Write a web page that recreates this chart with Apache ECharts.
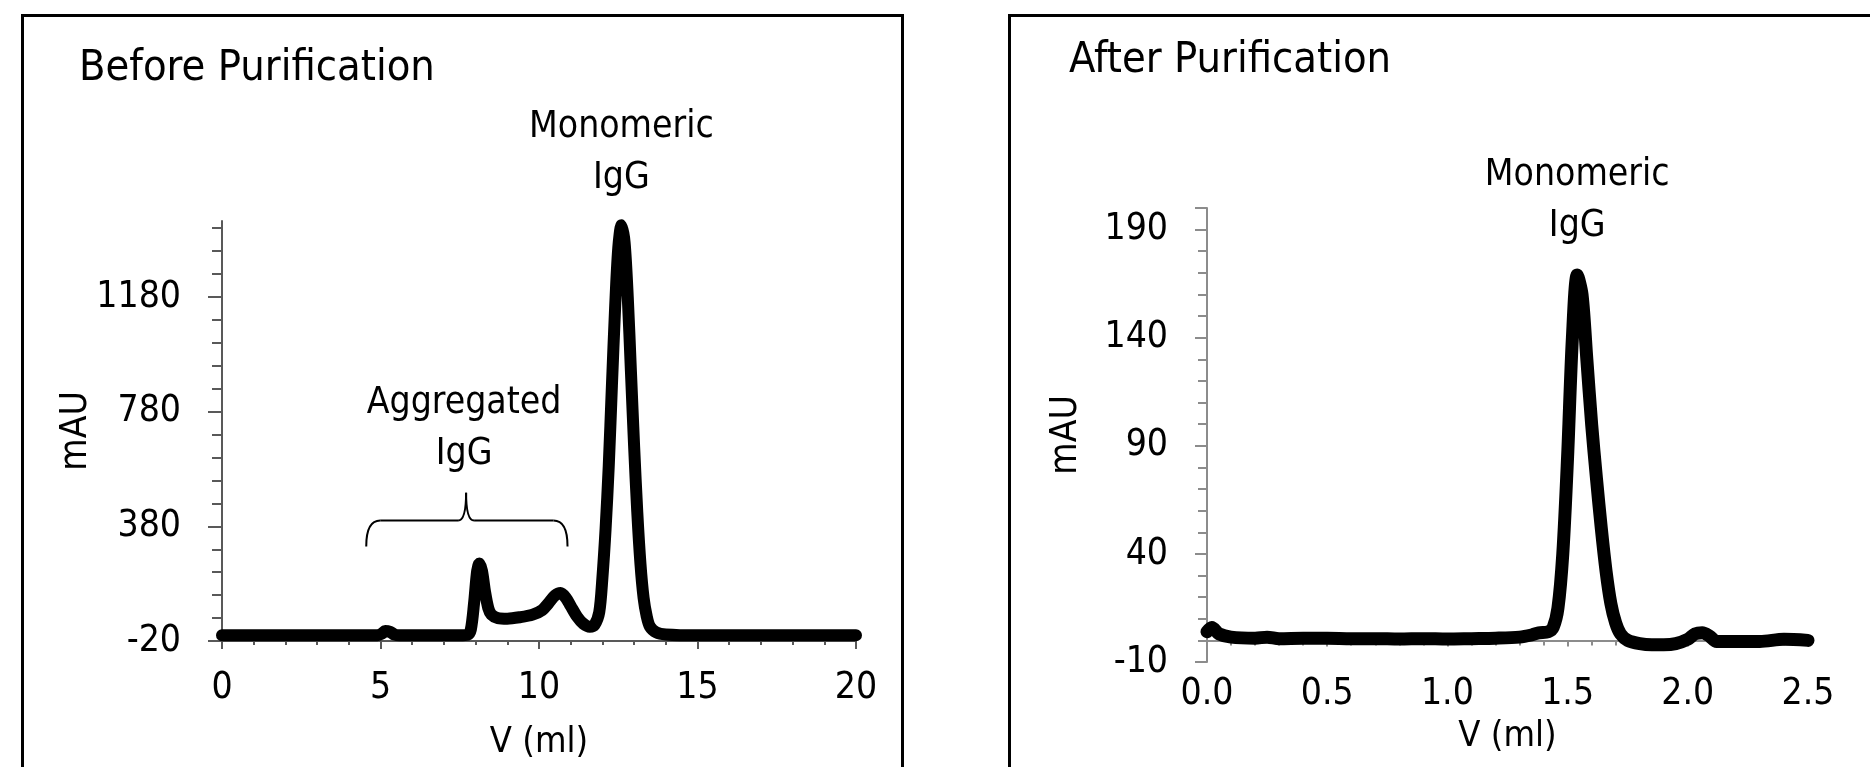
<!DOCTYPE html>
<html>
<head>
<meta charset="utf-8">
<script src="https://cdn.jsdelivr.net/npm/echarts@6/dist/echarts.min.js"></script>
<style>
html,body{margin:0;padding:0;background:#fff;}
#chart{width:1870px;height:767px;}
</style>
</head>
<body>
<div id="chart"></div>
<script>
// before purification trace (V in ml, absorbance in mAU)
const beforeV = [0, 1, 2, 3, 4, 4.9, 5.05, 5.15, 5.3, 5.45, 5.6, 6.5, 7.5, 7.75, 7.85, 7.95, 8.05, 8.12, 8.2, 8.3, 8.4, 8.5, 8.7, 9.0, 9.4, 9.8, 10.1, 10.3, 10.5, 10.68, 10.85, 11.0, 11.2, 11.4, 11.6, 11.75, 11.9, 12.0, 12.1, 12.2, 12.3, 12.4, 12.5, 12.6, 12.7, 12.8, 12.9, 13.0, 13.1, 13.2, 13.3, 13.4, 13.5, 13.7, 14.0, 15, 16, 17, 18, 19, 20];
const beforeMAU = [0, 0, 0, 0, 0, 0, 6, 15, 12, 2, 0, 0, 0, 2, 20, 110, 225, 250, 225, 150, 95, 72, 60, 58, 63, 72, 88, 112, 138, 147, 130, 102, 65, 40, 30, 36, 80, 200, 370, 590, 870, 1140, 1350, 1430, 1370, 1180, 920, 660, 430, 250, 130, 65, 30, 10, 3, 0, 0, 0, 0, 0, 0];

// after purification trace
const afterV = [0, 0.02, 0.05, 0.1, 0.2, 0.25, 0.3, 0.4, 0.5, 0.6, 0.7, 0.8, 0.9, 1.0, 1.1, 1.2, 1.3, 1.35, 1.38, 1.42, 1.44, 1.46, 1.48, 1.5, 1.52, 1.54, 1.56, 1.58, 1.6, 1.62, 1.64, 1.66, 1.68, 1.7, 1.72, 1.75, 1.8, 1.85, 1.9, 1.95, 2.0, 2.03, 2.06, 2.09, 2.12, 2.2, 2.3, 2.4, 2.5];
const afterMAU = [4, 6, 3, 1.5, 1, 1.5, 0.8, 1, 1, 0.8, 0.8, 0.6, 0.8, 0.6, 0.8, 1, 1.5, 2.5, 3.5, 4, 6, 15, 40, 85, 140, 169, 160, 130, 100, 75, 52, 32, 17, 8, 3, 0, -1.5, -2, -2, -1.5, 0.5, 3, 3.5, 2, -0.5, -0.5, -0.5, 0.5, 0];

const beforeYTicks = [-20, 380, 780, 1180];
const afterYTicks = [-10, 40, 90, 140, 190];

// brace over the aggregate peaks: left/centre/right V, and end/bar/tip heights
const braceV = [4.55, 7.7, 10.9];
const braceMAU = [310, 400, 497];

const font = "'Liberation Sans Narrow','Arial Narrow','DejaVu Sans Condensed',sans-serif";

function toPairs(xs, ys){
    let out = [];
    for(let i = 0; i < xs.length; i++){
        out.push([xs[i], ys[i]]);
    }
    return out;
}

let myChart = echarts.init(document.getElementById('chart'));
let option = {
    backgroundColor: '#fff',
    animation: false,
    textStyle: { fontFamily: font, color: '#000' },
    title: [
        {
            text: 'Before Purification', left: 79, top: 47, padding: 0,
            textStyle: { fontSize: 43, fontWeight: 'normal', fontFamily: font, color: '#000' }
        },
        {
            text: 'After Purification', left: 1069, top: 39, padding: 0,
            textStyle: { fontSize: 43, fontWeight: 'normal', fontFamily: font, color: '#000' }
        }
    ],
    grid: [
        { left: 222, top: 221, width: 634, height: 420, outerBoundsMode: 'none' },
        { left: 1207, top: 208, width: 601, height: 454, outerBoundsMode: 'none' }
    ],
    xAxis: [
        {
            type: 'value', gridIndex: 0, min: 0, max: 20, interval: 5,
            name: 'V (ml)', nameLocation: 'middle', nameGap: 84, nameMoveOverlap: false,
            nameTextStyle: { fontSize: 36, fontFamily: font, color: '#000' },
            axisLine: { onZero: false, lineStyle: { color: '#595959', width: 2 } },
            axisTick: { length: 8, lineStyle: { color: '#595959', width: 2 } },
            minorTick: { show: true, splitNumber: 5, length: 4, lineStyle: { color: '#595959', width: 2 } },
            splitLine: { show: false },
            axisLabel: { fontSize: 37, fontFamily: font, color: '#000', margin: 29,
                formatter: function(v){ return String(v) } }
        },
        {
            type: 'value', gridIndex: 1, min: 0, max: 2.5, interval: 0.5,
            name: 'V (ml)', nameLocation: 'middle', nameGap: 57, nameMoveOverlap: false,
            nameTextStyle: { fontSize: 36, fontFamily: font, color: '#000' },
            axisLine: { onZero: true, lineStyle: { color: '#8c8c8c', width: 2 } },
            axisTick: { length: 6, lineStyle: { color: '#8c8c8c', width: 2 } },
            minorTick: { show: true, splitNumber: 5, length: 5, lineStyle: { color: '#8c8c8c', width: 2 } },
            splitLine: { show: false },
            axisLabel: { fontSize: 37, fontFamily: font, color: '#000', margin: 14,
                formatter: function(v){ return v.toFixed(1) } }
        }
    ],
    yAxis: [
        {
            type: 'value', gridIndex: 0, min: -20, max: 1445, interval: 400,
            name: 'mAU', nameLocation: 'middle', nameRotate: 90, nameGap: 127, nameMoveOverlap: false,
            nameTextStyle: { fontSize: 37, fontFamily: font, color: '#000' },
            axisLine: { show: true, lineStyle: { color: '#595959', width: 2 } },
            axisTick: { show: true, length: 14, customValues: beforeYTicks, lineStyle: { color: '#595959', width: 2 } },
            minorTick: { show: true, splitNumber: 5, length: 10, lineStyle: { color: '#595959', width: 2 } },
            splitLine: { show: false },
            axisLabel: { fontSize: 37, fontFamily: font, color: '#000', margin: 41, customValues: beforeYTicks,
                formatter: function(v){ return String(v) } }
        },
        {
            type: 'value', gridIndex: 1, min: -10, max: 200, interval: 50,
            name: 'mAU', nameLocation: 'middle', nameRotate: 90, nameGap: 122, nameMoveOverlap: false,
            nameTextStyle: { fontSize: 37, fontFamily: font, color: '#000' },
            axisLine: { show: true, lineStyle: { color: '#8c8c8c', width: 2 } },
            axisTick: { show: true, length: 12, customValues: afterYTicks.concat([200]), lineStyle: { color: '#8c8c8c', width: 2 } },
            minorTick: { show: true, splitNumber: 5, length: 9, lineStyle: { color: '#8c8c8c', width: 2 } },
            splitLine: { show: false },
            axisLabel: { fontSize: 37, fontFamily: font, color: '#000', margin: 39, customValues: afterYTicks,
                formatter: function(v){ return String(v) } }
        }
    ],
    series: [
        {
            name: 'Before', type: 'line', xAxisIndex: 0, yAxisIndex: 0,
            data: toPairs(beforeV, beforeMAU),
            showSymbol: false, smooth: 0.3, clip: false,
            lineStyle: { color: '#000', width: 12, cap: 'round', join: 'round' }
        },
        {
            name: 'After', type: 'line', xAxisIndex: 1, yAxisIndex: 1,
            data: toPairs(afterV, afterMAU),
            showSymbol: false, smooth: 0.3, clip: false,
            lineStyle: { color: '#000', width: 13, cap: 'round', join: 'round' }
        }
    ]
};
myChart.setOption(option);

// annotations placed from the data
function peakOf(xs, ys){
    let i = ys.indexOf(Math.max.apply(null, ys));
    return [xs[i], ys[i]];
}
let p1 = myChart.convertToPixel({ xAxisIndex: 0, yAxisIndex: 0 }, peakOf(beforeV, beforeMAU));
let p2 = myChart.convertToPixel({ xAxisIndex: 1, yAxisIndex: 1 }, peakOf(afterV, afterMAU));
let bl = myChart.convertToPixel({ xAxisIndex: 0, yAxisIndex: 0 }, [braceV[0], braceMAU[0]]);
let bm = myChart.convertToPixel({ xAxisIndex: 0, yAxisIndex: 0 }, [braceV[1], braceMAU[1]]);
let bt = myChart.convertToPixel({ xAxisIndex: 0, yAxisIndex: 0 }, [braceV[1], braceMAU[2]]);
let br = myChart.convertToPixel({ xAxisIndex: 0, yAxisIndex: 0 }, [braceV[2], braceMAU[0]]);

let braceStyle = { fill: null, stroke: '#000', lineWidth: 2 };
let labelStyle = { fontSize: 37, fontFamily: font, fill: '#000', align: 'center', verticalAlign: 'bottom', lineHeight: 51 };

myChart.setOption({
    graphic: [
        { type: 'rect', shape: { x: 22.5, y: 15.5, width: 880, height: 800 }, style: { fill: null, stroke: '#000', lineWidth: 3 } },
        { type: 'rect', shape: { x: 1009.5, y: 15.5, width: 1000, height: 800 }, style: { fill: null, stroke: '#000', lineWidth: 3 } },
        { type: 'text', x: p1[0], y: p1[1] - 21, style: Object.assign({ text: 'Monomeric\nIgG' }, labelStyle) },
        { type: 'text', x: p2[0], y: p2[1] - 23, style: Object.assign({ text: 'Monomeric\nIgG' }, labelStyle) },
        { type: 'text', x: bm[0] - 2, y: bt[1] - 13, style: Object.assign({ text: 'Aggregated\nIgG' }, labelStyle) },
        // curly brace
        { type: 'bezierCurve', shape: { x1: bl[0], y1: bl[1], cpx1: bl[0], cpy1: bm[1], x2: bl[0] + 14, y2: bm[1] }, style: braceStyle },
        { type: 'line', shape: { x1: bl[0] + 14, y1: bm[1], x2: bm[0] - 8, y2: bm[1] }, style: braceStyle },
        { type: 'bezierCurve', shape: { x1: bm[0] - 8, y1: bm[1], cpx1: bm[0], cpy1: bm[1], x2: bm[0], y2: bt[1] }, style: braceStyle },
        { type: 'bezierCurve', shape: { x1: bm[0], y1: bt[1], cpx1: bm[0], cpy1: bm[1], x2: bm[0] + 8, y2: bm[1] }, style: braceStyle },
        { type: 'line', shape: { x1: bm[0] + 8, y1: bm[1], x2: br[0] - 14, y2: bm[1] }, style: braceStyle },
        { type: 'bezierCurve', shape: { x1: br[0] - 14, y1: bm[1], cpx1: br[0], cpy1: bm[1], x2: br[0], y2: br[1] }, style: braceStyle }
    ]
});
</script>
</body>
</html>
